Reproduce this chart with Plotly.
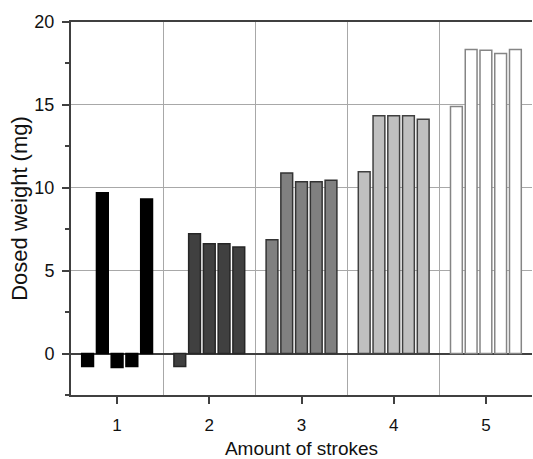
import plotly.graph_objects as go

strokes = [1, 2, 3, 4, 5]
# dosed weight (mg) for each of five replicate actuations, per stroke group
rep1 = [-0.78, -0.78, 6.86, 10.97, 14.91]
rep2 = [9.70, 7.22, 10.89, 14.35, 18.34]
rep3 = [-0.84, 6.62, 10.37, 14.35, 18.30]
rep4 = [-0.78, 6.62, 10.37, 14.35, 18.10]
rep5 = [9.33, 6.43, 10.45, 14.13, 18.34]
replicates = [rep1, rep2, rep3, rep4, rep5]

fill_colors = ["#000000", "#404040", "#808080", "#c0c0c0", "#ffffff"]
edge_colors = ["#000000", "#262626", "#333333", "#404040", "#858585"]

fig = go.Figure()
for i, rep in enumerate(replicates):
    fig.add_trace(go.Bar(
        x=strokes, y=rep, name=f"Rep {i+1}",
        marker=dict(color=fill_colors, line=dict(color=edge_colors, width=1.5)),
        showlegend=False,
    ))

font = "Liberation Sans, Arial, sans-serif"
fig.update_layout(
    width=533, height=459,
    margin=dict(l=71, r=1, t=22, b=64),
    plot_bgcolor="white", paper_bgcolor="white",
    barmode="group", bargap=0.2, bargroupgap=0.2,
    font=dict(family=font, color="#111111", size=18),
    xaxis=dict(
        range=[0.5, 5.5], tickvals=strokes, ticktext=[str(s) for s in strokes],
        showgrid=False, zeroline=False, automargin=False,
        showline=True, linecolor="#404040", linewidth=2, mirror=True,
        ticks="outside", ticklen=7, tickcolor="#404040", tickwidth=1.5,
        tickfont=dict(size=17), ticklabelstandoff=7,
        title=dict(text="Amount of strokes", font=dict(size=19), standoff=13),
        minor=dict(tickvals=[1.5, 2.5, 3.5, 4.5, 5.5], showgrid=True,
                   gridcolor="#a8a8a8", gridwidth=1, ticks=""),
    ),
    yaxis=dict(
        range=[-2.5, 20], tickvals=[0, 5, 10, 15, 20],
        showgrid=True, gridcolor="#a8a8a8", gridwidth=1,
        zeroline=True, zerolinecolor="#404040", zerolinewidth=1.5,
        showline=True, linecolor="#404040", linewidth=2, automargin=False,
        ticks="outside", ticklen=7, tickcolor="#404040", tickwidth=1.5,
        tickfont=dict(size=18), ticklabelstandoff=4,
        title=dict(text="Dosed weight (mg)", font=dict(size=22), standoff=1),
        minor=dict(tickvals=[-2.5, 2.5, 7.5, 12.5, 17.5], ticks="outside",
                   ticklen=4, tickcolor="#404040", tickwidth=1.5, showgrid=False),
    ),
)

fig.write_html("out.html", config={"displayModeBar": False},
               post_script="document.body.style.margin='0';")
